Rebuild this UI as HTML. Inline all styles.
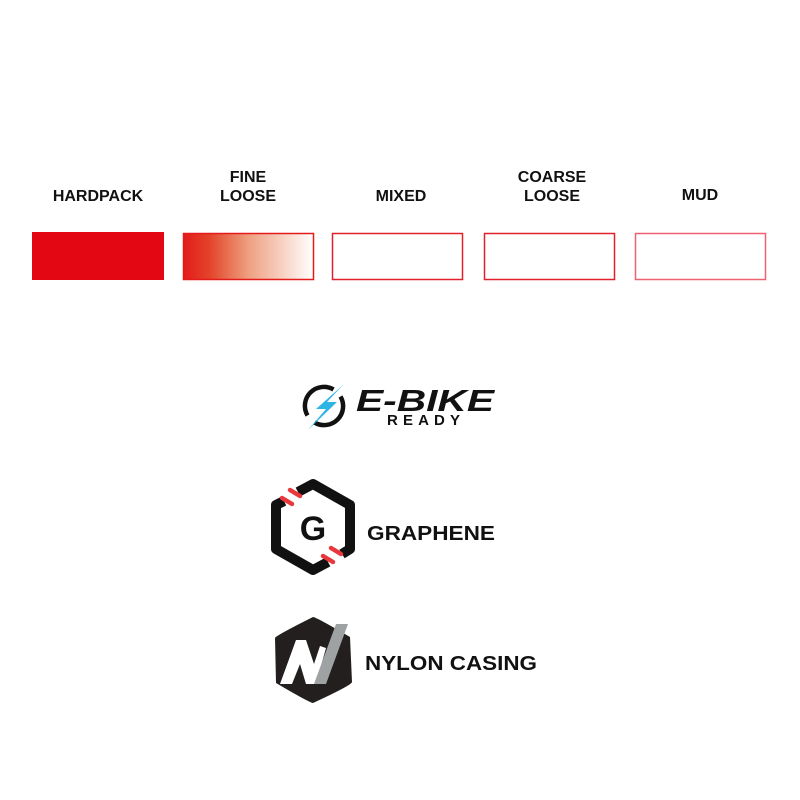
<!DOCTYPE html>
<html><head><meta charset="utf-8"><style>
html,body{margin:0;padding:0;background:#fff;}
svg{display:block;}
text{font-family:"Liberation Sans",sans-serif;}
</style></head><body>
<svg width="800" height="800" viewBox="0 0 800 800" xmlns="http://www.w3.org/2000/svg">
<defs>
<linearGradient id="g1" x1="0" x2="1" y1="0" y2="0">
<stop offset="0" stop-color="#e31b1b"/>
<stop offset="0.2" stop-color="#e3442a"/>
<stop offset="0.5" stop-color="#eea080"/>
<stop offset="1" stop-color="#ffffff"/>
</linearGradient>
</defs>
<g font-size="16" font-weight="bold" fill="#111" text-anchor="middle">
<text x="98" y="201">HARDPACK</text>
<text x="248" y="182">FINE</text>
<text x="248" y="201">LOOSE</text>
<text x="401" y="201">MIXED</text>
<text x="552" y="182">COARSE</text>
<text x="552" y="201">LOOSE</text>
<text x="700" y="200">MUD</text>
</g>
<rect x="32" y="232" width="132" height="48" fill="#e30613"/>
<rect x="183.5" y="233.5" width="130" height="46" fill="url(#g1)" stroke="#e31b1b" stroke-width="1.5"/>
<rect x="332.5" y="233.5" width="130" height="46" fill="#fff" stroke="#e0202a" stroke-width="1.5"/>
<rect x="484.5" y="233.5" width="130" height="46" fill="#fff" stroke="#e0202a" stroke-width="1.5"/>
<rect x="635.5" y="233.5" width="130" height="46" fill="#fff" stroke="#ef6070" stroke-width="1.5"/>

<!-- E-bike -->
<g fill="none" stroke="#111" stroke-width="4.5">
<path d="M340.5 396.5 A19 19 0 0 1 314.5 422.5"/>
<path d="M307.5 415.5 A19 19 0 0 1 333.5 389.5"/>
</g>
<path d="M343 385 L316 409 L326 409 L308 430 L337 402 L327 402 Z" fill="#2fb4e6"/>
<text x="356" y="411" font-size="31" font-weight="bold" font-style="italic" fill="#111" textLength="138" lengthAdjust="spacingAndGlyphs">E-BIKE</text>
<text x="387" y="425" font-size="15" font-weight="bold" fill="#111" textLength="73" lengthAdjust="spacing">READY</text>

<!-- Graphene -->
<g fill="none" stroke="#111" stroke-width="10" stroke-linejoin="round" stroke-linecap="butt">
<path d="M298 492 L313 484 L350 505 L350 549 L342 554"/>
<path d="M284 501 L276 505 L276 549 L313 570 L328 562"/>
</g>
<g stroke="#e8373d" stroke-width="4.5" stroke-linecap="round">
<line x1="282" y1="498" x2="292" y2="504"/><line x1="290" y1="490" x2="300" y2="496"/>
<line x1="323" y1="556" x2="333" y2="562"/><line x1="331" y1="548" x2="341" y2="554"/>
</g>
<text x="313" y="540" font-size="34" font-weight="bold" fill="#111" text-anchor="middle">G</text>
<text x="367" y="540" font-size="20" font-weight="bold" fill="#111" textLength="128" lengthAdjust="spacingAndGlyphs">GRAPHENE</text>

<!-- Nylon -->
<path d="M313 617 Q316 617 350 637 L352 682 Q352 685 313 703 Q310 703 276 683 L275 638 Q275 636 313 617 Z" fill="#231f1f"/>
<path d="M280 684 L296 640 L306 640 L314 664 L320 646 L326 648 L316 684 L306 684 L300 664 L292 684 Z" fill="#fff"/>
<path d="M336 624 L348 624 L326 684 L314 684 Z" fill="#9ea2a3"/>
<text x="365" y="670" font-size="20" font-weight="bold" fill="#111" textLength="172" lengthAdjust="spacingAndGlyphs">NYLON CASING</text>
</svg>
</body></html>
